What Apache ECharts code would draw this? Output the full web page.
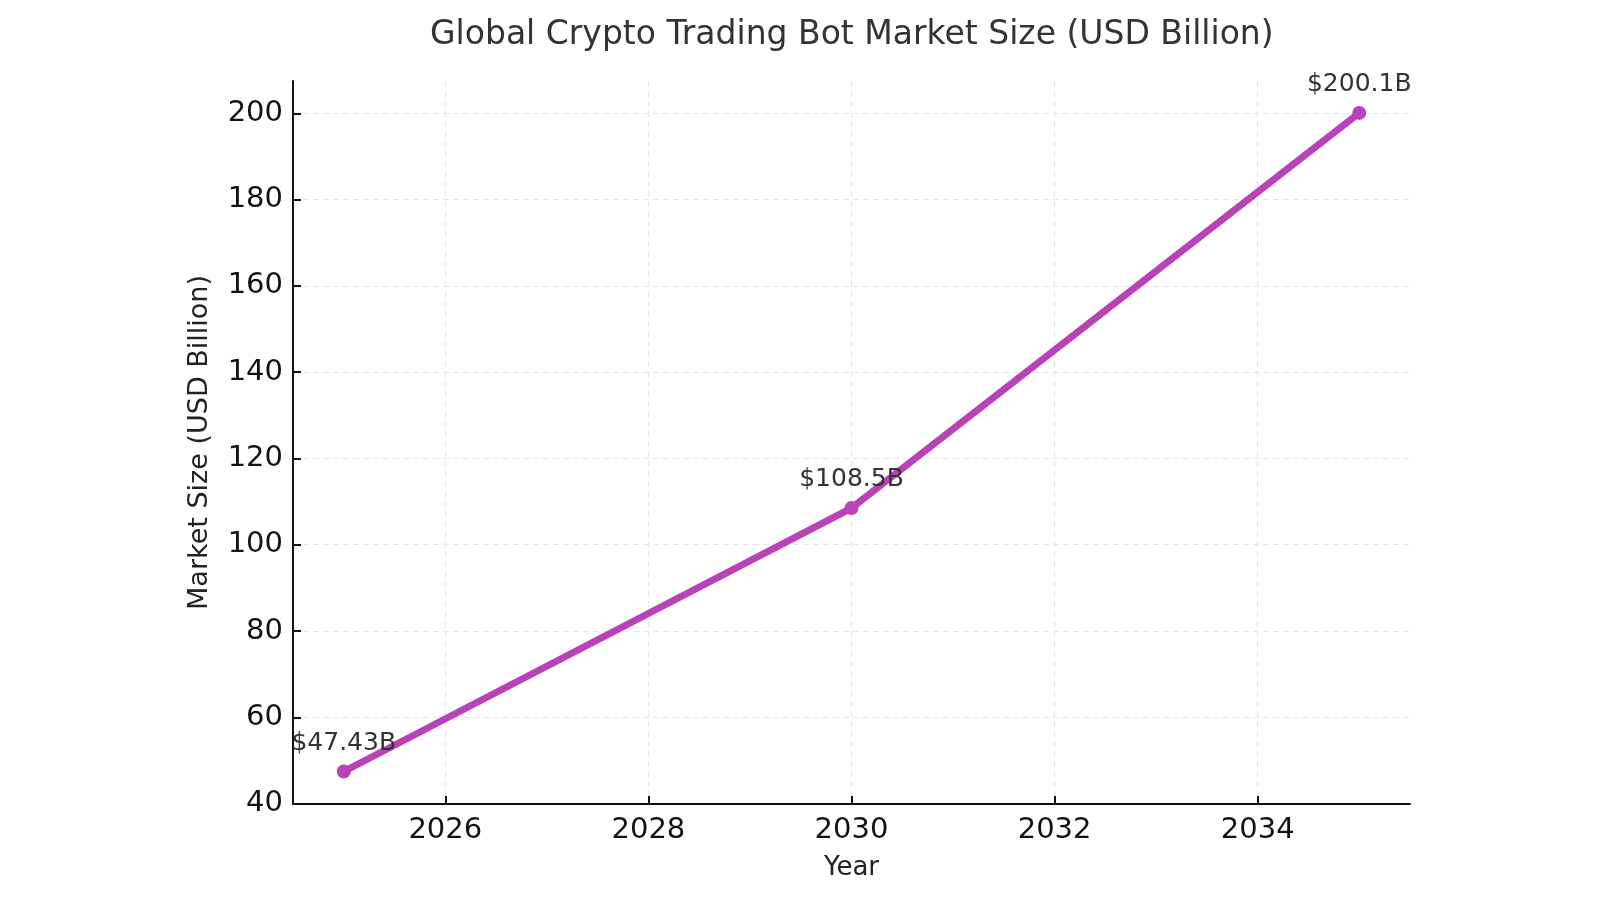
<!DOCTYPE html>
<html>
<head>
<meta charset="utf-8">
<script src="https://cdn.jsdelivr.net/npm/echarts@6/dist/echarts.min.js"></script>
<style>
  html, body { margin: 0; padding: 0; background: #fff; }
  #main { width: 1600px; height: 900px; }
</style>
</head>
<body>
<div id="main"></div>
<script>
// data
var years = [2025, 2030, 2035];
var marketSize = [47.43, 108.5, 200.1];
var xTicks = [2026, 2028, 2030, 2032, 2034];
var yTicks = [40, 60, 80, 100, 120, 140, 160, 180, 200];

var FONT = 'DejaVu Sans';
var lineColor = '#b942b9';

var chart = echarts.init(document.getElementById('main'), null, { renderer: 'canvas' });

var points = [];
for (var i = 0; i < years.length; i++) {
  points.push([years[i], marketSize[i]]);
}

var option = {
  backgroundColor: '#fff',
  animation: false,
  title: {
    text: 'Global Crypto Trading Bot Market Size (USD Billion)',
    left: 425,
    top: 14,
    textStyle: { fontFamily: FONT, fontSize: 33, fontWeight: 'normal', color: '#333' }
  },
  grid: { left: 293, right: 190, top: 81, bottom: 96, containLabel: false },
  xAxis: {
    type: 'value',
    min: 2024.5,
    max: 2035.5,
    name: 'Year',
    nameLocation: 'middle',
    nameGap: 51,
    nameTextStyle: { fontFamily: FONT, fontSize: 26, color: '#222' },
    axisLine: { show: true, onZero: false, lineStyle: { color: '#111', width: 2 } },
    axisTick: { show: true, inside: true, length: 8, customValues: xTicks, lineStyle: { color: '#111', width: 2 } },
    axisLabel: {
      customValues: xTicks, fontFamily: FONT, fontSize: 29, color: '#111', margin: 12,
      formatter: function (v) { return String(v); }
    },
    splitLine: { show: true, lineStyle: { color: '#e6e6e6', type: [6, 4], width: 1.2 } }
  },
  yAxis: {
    type: 'value',
    min: 39.9,
    max: 207.5,
    name: 'Market Size (USD Billion)',
    nameLocation: 'middle',
    nameGap: 80,
    nameTextStyle: { fontFamily: FONT, fontSize: 27, color: '#222' },
    axisLine: { show: true, onZero: false, lineStyle: { color: '#111', width: 2 } },
    axisTick: { show: true, inside: true, length: 8, customValues: yTicks, lineStyle: { color: '#111', width: 2 } },
    axisLabel: { customValues: yTicks, fontFamily: FONT, fontSize: 29, color: '#111', margin: 10 },
    splitLine: { show: true, lineStyle: { color: '#e6e6e6', type: [6, 4], width: 1.2 } }
  },
  series: [{
    type: 'line',
    data: points,
    symbol: 'circle',
    symbolSize: 14,
    clip: false,
    lineStyle: { color: lineColor, width: 7 },
    itemStyle: { color: lineColor },
    label: {
      show: true,
      position: 'top',
      distance: 9,
      fontFamily: FONT,
      fontSize: 25,
      color: '#333',
      formatter: function (p) { return '$' + p.value[1] + 'B'; }
    }
  }]
};

chart.setOption(option);
</script>
</body>
</html>
